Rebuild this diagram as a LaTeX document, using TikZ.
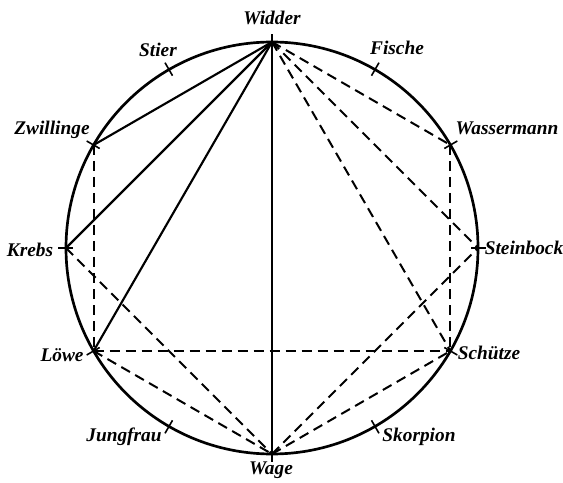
\documentclass[tikz,border=0pt]{standalone}
\usepackage{fontspec}
\setmainfont{Liberation Serif}
\usetikzlibrary{calc}
\begin{document}
\begin{tikzpicture}[x=0.75pt,y=0.75pt,
  lbl/.style={font=\fontsize{14.5}{16}\selectfont\bfseries\itshape, inner sep=0pt},
  rim/.style={line width=2pt},
  chord/.style={line width=1.6pt},
  dchord/.style={line width=1.5pt, dash pattern=on 7.5pt off 4.5pt},
  tick/.style={line width=1.2pt}]
\useasboundingbox (0,0) rectangle (563,482);
\coordinate (C) at (272,234);
\draw[rim] (C) circle (206);
% points on circle
\foreach \n/\a in {Widder/90,Fische/60,Wassermann/30,Steinbock/0,Schuetze/-30,Skorpion/-60,Wage/-90,Jungfrau/-120,Loewe/-150,Krebs/180,Zwillinge/150,Stier/120}{
  \coordinate (\n) at ($(C)+(\a:206)$);
  \coordinate (\n i) at ($(C)+(\a:199)$);
  \coordinate (\n o) at ($(C)+(\a:214)$);
  \draw[tick] (\n i) -- (\n o);
}
% solid chords
\draw[chord] (Widder) -- (Zwillinge);
\draw[chord] (Widder) -- (Krebs);
\draw[chord] (Widder) -- (Loewe);
\draw[chord] (Widder) -- (Wage);
% dashed chords
\draw[dchord] (Widder) -- (Wassermann);
\draw[dchord] (Widder) -- (Steinbock);
\draw[dchord] (Widder) -- (Schuetze);
\draw[dchord] (Zwillinge) -- (Loewe);
\draw[dchord] (Krebs) -- (Wage);
\draw[dchord] (Loewe) -- (Schuetze);
\draw[dchord] (Loewe) -- (Wage);
\draw[dchord] (Wage) -- (Schuetze);
\draw[dchord] (Wage) -- (Steinbock);
\draw[dchord] (Wassermann) -- (Schuetze);
% labels
\node[lbl] (tWidder) at (272,464) {Widder};
\node[lbl] (tFische) at (397,434) {Fische};
\node[lbl] (tStier) at (158,432) {Stier};
\node[lbl] (tZwillinge) at (52,352) {Zwillinge};
\node[lbl] (tKrebs) at (30,232) {Krebs};
\node[lbl] (tWassermann) at (507,354) {Wassermann};
\node[lbl] (tSteinbock) at (524,234) {Steinbock};
\node[lbl] (tLoewe) at (62,127) {Löwe};
\node[lbl] (tSchuetze) at (489,129) {Schütze};
\node[lbl] (tJungfrau) at (124,45) {Jungfrau};
\node[lbl] (tSkorpion) at (419,45) {Skorpion};
\node[lbl] (tWage) at (271,12) {Wage};
\end{tikzpicture}
\end{document}
